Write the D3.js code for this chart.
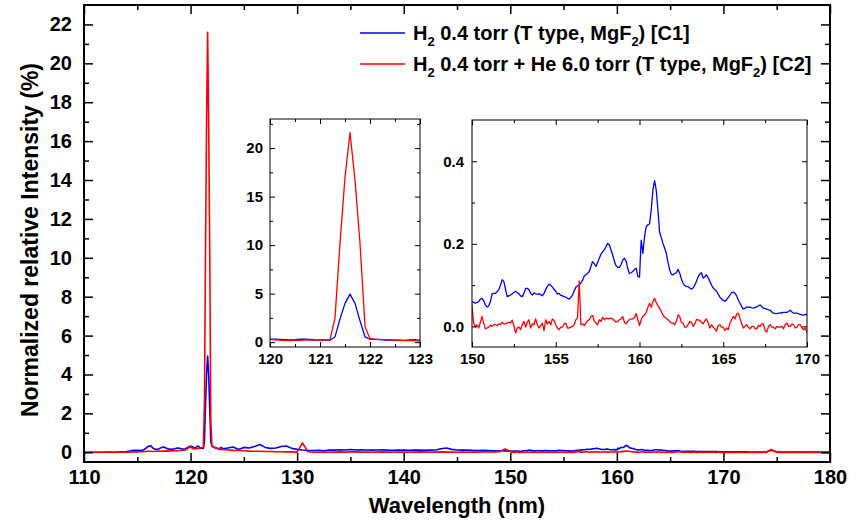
<!DOCTYPE html>
<html>
<head>
<meta charset="utf-8">
<script src="https://cdn.jsdelivr.net/npm/d3@7"></script>
<style>
  html, body { margin: 0; padding: 0; background: #fff; }
  svg { display: block; }
  text { font-family: "Liberation Sans", Arial, Helvetica, sans-serif; font-weight: bold; fill: #000; }
</style>
</head>
<body>
<svg id="chart" width="849" height="520"></svg>
<script>
// ---- Spectra: normalized relative intensity (%) vs wavelength (nm) ----
// Each spectrum is stored in segments; a segment has a start wavelength and a fixed step.
const segStart = [110, 120, 123, 150, 170];
const segStep  = [0.25, 0.1, 0.5, 0.1, 0.5];

// C1: H2 0.4 torr
const c1Seg110 = [0.00,0.00,0.00,0.00,0.00,0.00,0.00,0.00,0.00,0.00,0.01,0.00,0.01,0.01,0.02,0.03,0.04,0.06,0.09,0.10,
                  0.10,0.09,0.10,0.18,0.30,0.34,0.20,0.14,0.17,0.24,0.27,0.20,0.16,0.15,0.18,0.22,0.21,0.16,0.18,0.25];
const c1Seg120 = [0.32,0.30,0.28,0.25,0.22,0.25,0.30,0.32,0.28,0.22,0.20,0.22,0.20,0.55,2.4,4.0,4.95,4.0,2.2,0.55,
                  0.30,0.28,0.25,0.22,0.22,0.20,0.20,0.18,0.22,0.25];
const c1Seg123 = [0.18,0.22,0.27,0.14,0.25,0.22,0.30,0.40,0.25,0.20,0.22,0.30,0.32,0.20,0.15,0.12,0.10,0.09,0.10,0.08,
                  0.12,0.11,0.13,0.12,0.14,0.12,0.13,0.12,0.11,0.12,0.13,0.11,0.10,0.12,0.11,0.10,0.12,0.11,0.10,0.11,
                  0.12,0.18,0.22,0.15,0.12,0.11,0.12,0.10,0.09,0.10,0.09,0.08,0.08,0.07];
const c1Seg150 = [0.060,0.058,0.056,0.058,0.060,0.066,0.068,0.062,0.052,0.047,0.050,0.060,0.079,0.080,0.080,0.084,0.089,0.100,0.113,0.109,
                  0.090,0.072,0.074,0.076,0.079,0.082,0.085,0.082,0.079,0.074,0.072,0.080,0.092,0.092,0.089,0.080,0.076,0.081,0.079,0.078,
                  0.079,0.077,0.074,0.080,0.089,0.097,0.102,0.100,0.095,0.090,0.085,0.078,0.080,0.075,0.074,0.072,0.071,0.068,0.066,0.070,
                  0.076,0.086,0.095,0.098,0.100,0.105,0.112,0.122,0.125,0.129,0.133,0.145,0.157,0.152,0.145,0.155,0.165,0.175,0.181,0.186,
                  0.193,0.201,0.197,0.185,0.173,0.158,0.147,0.143,0.143,0.150,0.161,0.165,0.158,0.140,0.128,0.130,0.133,0.138,0.141,0.121,
                  0.119,0.209,0.177,0.217,0.242,0.246,0.248,0.282,0.330,0.353,0.330,0.282,0.228,0.215,0.201,0.190,0.177,0.155,0.137,0.126,
                  0.125,0.128,0.130,0.138,0.129,0.115,0.105,0.099,0.097,0.096,0.093,0.090,0.093,0.100,0.109,0.120,0.127,0.130,0.117,0.120,
                  0.125,0.118,0.109,0.100,0.093,0.089,0.085,0.078,0.071,0.066,0.063,0.061,0.064,0.070,0.076,0.082,0.083,0.080,0.074,0.064,
                  0.056,0.048,0.042,0.044,0.047,0.046,0.047,0.045,0.044,0.046,0.047,0.050,0.052,0.048,0.044,0.043,0.042,0.040,0.039,0.035,
                  0.032,0.031,0.031,0.032,0.032,0.033,0.034,0.034,0.034,0.036,0.039,0.035,0.032,0.032,0.032,0.030,0.029,0.028,0.027,0.029];
const c1Seg170 = [0.028,0.025,0.022,0.020,0.020,0.018,0.018,0.015,0.015,0.10,0.015,0.012,0.012,0.010,0.010,0.010,0.010,0.010,0.010,0.010,0.010];

// C2: H2 0.4 torr + He 6.0 torr
const c2Seg110 = [0.00,0.00,0.00,0.00,-0.01,0.00,0.00,0.00,0.00,0.00,0.00,-0.01,0.00,0.00,0.00,0.00,0.00,0.01,0.02,0.02,
                  0.02,0.03,0.03,0.04,0.05,0.05,0.04,0.05,0.06,0.05,0.06,0.07,0.06,0.07,0.08,0.08,0.09,0.10,0.12,0.20];
const c2Seg120 = [0.28,0.24,0.20,0.18,0.17,0.18,0.19,0.20,0.20,0.21,0.22,0.23,0.25,2.5,10.2,17.0,21.6,16.7,10.2,1.6,
                  0.35,0.30,0.28,0.25,0.22,0.20,0.18,0.16,0.15,0.14];
const c2Seg123 = [0.14,0.12,0.10,0.09,0.08,0.06,0.05,0.05,0.04,0.04,0.03,0.03,0.02,0.02,0.01,0.48,0.03,0.01,0.00,0.01,
                  0.00,0.01,0.02,0.01,0.03,0.02,0.01,0.01,0.00,0.01,0.02,0.01,0.00,0.01,0.01,0.00,0.01,0.02,0.01,0.00,
                  0.01,0.02,0.01,0.01,0.00,0.01,0.00,0.01,0.01,0.02,0.02,0.02,0.03,0.17];
const c2Seg150 = [0.048,0.008,-0.002,0.004,-0.004,0.010,0.024,0.008,-0.006,-0.004,-0.002,0.003,0.000,0.004,0.004,0.002,0.006,0.004,0.010,0.006,
                  0.006,0.008,0.010,0.008,0.015,0.002,-0.016,-0.004,-0.002,-0.008,0.004,0.012,-0.002,0.010,0.016,-0.004,0.006,0.004,0.018,0.004,
                  -0.004,0.002,0.008,-0.010,0.016,0.006,0.012,0.004,0.018,0.014,0.004,-0.004,-0.008,-0.002,-0.002,0.006,0.008,-0.004,-0.004,-0.002,
                  0.000,0.004,0.016,0.020,0.110,0.004,0.006,0.002,0.008,0.014,0.016,0.024,0.026,0.012,0.008,0.004,0.016,0.012,0.022,0.016,
                  0.020,0.018,0.019,0.020,0.018,0.014,0.010,0.012,0.016,0.018,0.024,0.010,0.006,0.012,0.016,0.018,0.018,0.022,0.031,0.016,
                  0.002,0.016,0.024,0.028,0.034,0.046,0.056,0.046,0.060,0.068,0.058,0.050,0.044,0.036,0.028,0.022,0.020,0.016,0.012,0.008,
                  0.008,0.004,0.012,0.028,0.024,0.010,0.008,-0.002,-0.002,0.004,0.012,0.010,0.000,0.006,0.016,0.016,0.014,0.010,0.006,0.014,
                  0.018,0.008,-0.004,0.004,-0.002,-0.006,-0.012,0.002,0.004,-0.002,-0.002,-0.010,-0.004,-0.008,0.008,0.016,0.024,0.018,0.030,0.032,
                  0.020,0.006,-0.004,0.000,0.004,-0.002,-0.006,0.000,0.000,-0.006,-0.006,0.002,0.000,0.006,0.006,-0.010,-0.014,0.000,0.004,-0.002,
                  -0.002,-0.006,0.000,-0.002,-0.002,0.000,-0.006,0.004,0.008,0.000,0.000,0.006,0.004,-0.004,-0.002,0.004,0.004,-0.004,-0.008,-0.004];
const c2Seg170 = [-0.015,0.000,-0.005,-0.010,-0.010,-0.010,-0.010,-0.010,0.000,0.14,0.000,-0.010,-0.010,-0.010,-0.010,-0.010,-0.010,-0.010,-0.010,-0.010,-0.010];

const seriesColors = ["#0000ff", "#ff0000"];

// Main axis ticks
const mainXMajor = [110, 120, 130, 140, 150, 160, 170, 180];
const mainXMinor = [115, 125, 135, 145, 155, 165, 175];
const mainYMajor = [0, 2, 4, 6, 8, 10, 12, 14, 16, 18, 20, 22];
const mainYMinor = [1, 3, 5, 7, 9, 11, 13, 15, 17, 19, 21];
// Inset 1 (Lyman-alpha region) ticks
const in1XMajor = [120, 121, 122, 123];
const in1XMinor = [120.5, 121.5, 122.5];
const in1YMajor = [0, 5, 10, 15, 20];
const in1YMinor = [2.5, 7.5, 12.5, 17.5, 22.5];
// Inset 2 (150-170 nm) ticks
const in2XMajor = [150, 155, 160, 165, 170];
const in2XMinor = [152.5, 157.5, 162.5, 167.5];
const in2YMajor = [0.0, 0.2, 0.4];
const in2YMinor = [0.1, 0.3];

// ---- build the point lists ----
function buildSeries(segs) {
  const pts = [];
  segs.forEach((vals, k) => {
    vals.forEach((v, i) => pts.push({ x: +(segStart[k] + i * segStep[k]).toFixed(3), y: v }));
  });
  return pts;
}
const c1 = buildSeries([c1Seg110, c1Seg120, c1Seg123, c1Seg150, c1Seg170]);
const c2 = buildSeries([c2Seg110, c2Seg120, c2Seg123, c2Seg150, c2Seg170]);
const allSeries = [c1, c2];

const svg = d3.select("#chart");
let clipId = 0;

// Draws a framed panel with inward ticks on all four sides and the two spectra.
function panel(opt) {
  const { left, right, top, bottom } = opt;
  const x = d3.scaleLinear().domain(opt.xDomain).range([left, right]);
  const y = d3.scaleLinear().domain(opt.yDomain).range([bottom, top]);
  const g = svg.append("g");

  if (opt.fill) g.append("rect").attr("x", left).attr("y", top)
    .attr("width", right - left).attr("height", bottom - top).attr("fill", "#fff");

  const id = "clip" + (clipId++);
  g.append("clipPath").attr("id", id).append("rect")
    .attr("x", left).attr("y", top).attr("width", right - left).attr("height", bottom - top);

  const line = d3.line().x(d => x(d.x)).y(d => y(d.y));
  const lines = g.append("g").attr("clip-path", `url(#${id})`);
  allSeries.forEach((s, i) => {
    const data = s.filter(d => d.x >= opt.xDomain[0] - 0.6 && d.x <= opt.xDomain[1] + 0.6);
    lines.append("path").datum(data)
      .attr("fill", "none").attr("stroke", seriesColors[i])
      .attr("stroke-width", opt.lineWidth).attr("stroke-linejoin", "round")
      .attr("d", line);
  });

  const T = opt.tickMajor, t = opt.tickMinor;
  function addAxis(axisFn, scale, values, size, transform, labels, pad) {
    const ax = axisFn(scale).tickValues(values).tickSizeInner(-size).tickSizeOuter(0)
      .tickPadding(pad || 0);
    ax.tickFormat(labels ? opt[labels] : () => "");
    const a = g.append("g").attr("transform", transform).call(ax);
    a.select(".domain").remove();
    a.selectAll(".tick line").attr("stroke", "#000").attr("stroke-width", opt.tickWidth);
    a.selectAll("text").attr("font-size", opt.fontSize).attr("fill", "#000")
      .style("font-family", '"Liberation Sans", Arial, sans-serif').style("font-weight", "bold");
    return a;
  }
  addAxis(d3.axisBottom, x, opt.xMajor, T, `translate(0,${bottom})`, "xFormat", opt.padX);
  addAxis(d3.axisBottom, x, opt.xMinor, t, `translate(0,${bottom})`);
  addAxis(d3.axisTop, x, opt.xMajor, T, `translate(0,${top})`);
  addAxis(d3.axisTop, x, opt.xMinor, t, `translate(0,${top})`);
  addAxis(d3.axisLeft, y, opt.yMajor, T, `translate(${left},0)`, "yFormat", opt.padY);
  addAxis(d3.axisLeft, y, opt.yMinor, t, `translate(${left},0)`);
  addAxis(d3.axisRight, y, opt.yMajor, T, `translate(${right},0)`);
  addAxis(d3.axisRight, y, opt.yMinor, t, `translate(${right},0)`);

  g.append("rect").attr("x", left).attr("y", top)
    .attr("width", right - left).attr("height", bottom - top)
    .attr("fill", "none").attr("stroke", "#000").attr("stroke-width", opt.frameWidth);
  return { x, y, g };
}

// Main plot
panel({
  left: 84, right: 830, top: 5, bottom: 462,
  xDomain: [110, 180], yDomain: [-0.5, 23],
  xMajor: mainXMajor, xMinor: mainXMinor, yMajor: mainYMajor, yMinor: mainYMinor,
  xFormat: d3.format("d"), yFormat: d3.format("d"),
  tickMajor: 9, tickMinor: 5, tickWidth: 1.5, frameWidth: 2,
  padX: 8, padY: 12, fontSize: "20px", lineWidth: 1.6
});

// Axis titles
svg.append("text").attr("x", 457).attr("y", 513).attr("text-anchor", "middle")
  .attr("font-size", "22px").text("Wavelength (nm)");
svg.append("text").attr("transform", "translate(38,240) rotate(-90)").attr("text-anchor", "middle")
  .attr("font-size", "23px").text("Normalized relative Intensity (%)");

// Inset: Lyman-alpha peak
panel({
  left: 270, right: 420, top: 119, bottom: 347, fill: true,
  xDomain: [120, 123], yDomain: [-0.5, 23],
  xMajor: in1XMajor, xMinor: in1XMinor, yMajor: in1YMajor, yMinor: in1YMinor,
  xFormat: d3.format("d"), yFormat: d3.format("d"),
  tickMajor: 5, tickMinor: 3, tickWidth: 1, frameWidth: 1,
  padX: 6, padY: 7, fontSize: "15px", lineWidth: 1.3
});

// Inset: 150-170 nm continuum
panel({
  left: 472, right: 807, top: 120, bottom: 347, fill: true,
  xDomain: [150, 170], yDomain: [-0.05, 0.5],
  xMajor: in2XMajor, xMinor: in2XMinor, yMajor: in2YMajor, yMinor: in2YMinor,
  xFormat: d3.format("d"), yFormat: d3.format(".1f"),
  tickMajor: 5, tickMinor: 3, tickWidth: 1, frameWidth: 1,
  padX: 6, padY: 8, fontSize: "15px", lineWidth: 1.3
});

// Legend (text with subscript digits)
const legend = svg.append("g");
const legendY = [33, 64];
const legendParts = [
  [["H", 0], ["2", 1], [" 0.4 torr (T type, MgF", 0], ["2", 1], [") [C1]", 0]],
  [["H", 0], ["2", 1], [" 0.4 torr + He 6.0 torr (T type, MgF", 0], ["2", 1], [") [C2]", 0]]
];
legendY.forEach((ly, i) => {
  legend.append("line").attr("x1", 360).attr("x2", 405).attr("y1", ly).attr("y2", ly)
    .attr("stroke", seriesColors[i]).attr("stroke-width", 1.5);
  const txt = legend.append("text").attr("x", 413).attr("y", ly + 7).attr("font-size", "20px");
  let prevSub = 0;
  legendParts[i].forEach(([s, sub]) => {
    const ts = txt.append("tspan").text(s);
    if (sub) ts.attr("font-size", "13px");
    ts.attr("dy", sub && !prevSub ? 6 : (!sub && prevSub ? -6 : 0));
    prevSub = sub;
  });
});
</script>
</body>
</html>
